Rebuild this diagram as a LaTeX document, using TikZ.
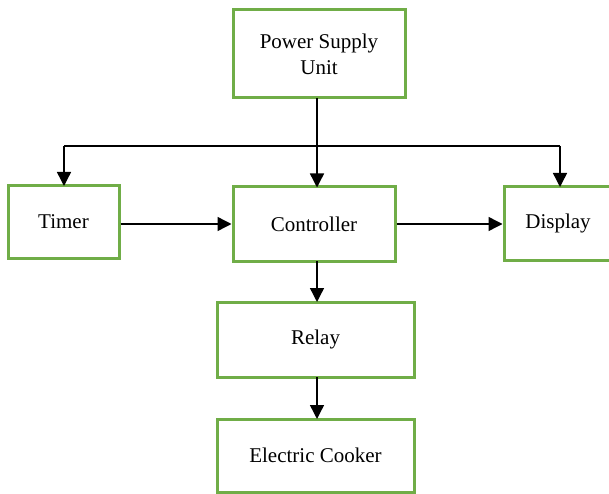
\documentclass[tikz,border=0pt]{standalone}
\usepackage{fontspec}
\setmainfont{Liberation Serif}
\usetikzlibrary{arrows.meta}
\definecolor{boxgreen}{RGB}{112,173,71}
\begin{document}
\begin{tikzpicture}[x=1pt,y=-1pt,
  blk/.style={draw=boxgreen, line width=3pt, fill=white, inner sep=0pt, align=center, font=\fontsize{21}{26}\selectfont},
  conn/.style={line width=1.4pt, -{Triangle[length=14pt,width=14pt]}},
  plain/.style={line width=1.4pt}]
\useasboundingbox (0,0) rectangle (609,494);
\node[blk, minimum width=172pt, minimum height=88pt] (psu) at (319,54) {Power Supply\\Unit};
\node[blk, minimum width=111pt, minimum height=72pt] (timer) at (63.5,222) {Timer};
\node[blk, minimum width=162pt, minimum height=74pt] (ctrl) at (314,224) {Controller};
\node[blk, minimum width=108pt, minimum height=73pt] (disp) at (558,223.5) {Display};
\node[blk, minimum width=197pt, minimum height=75pt] (relay) at (315.5,339.5) {Relay};
\node[blk, minimum width=197pt, minimum height=73pt] (cook) at (315.5,455.5) {Electric Cooker};
\coordinate (top) at (317,98);
\coordinate (j) at (317,146);
\coordinate (jl) at (64,146);
\coordinate (jr) at (560,146);
\draw[conn] (top) -- (317,187.5);
\draw[plain] (jl) -- (jr);
\draw[conn] (jl) -- (64,186);
\draw[conn] (jr) -- (560,187);
\draw[conn] (timer.east |- 0,224) -- (ctrl.west |- 0,224);
\draw[conn] (ctrl.east |- 0,224) -- (disp.west |- 0,224);
\draw[conn] (317,261) -- (317,302);
\draw[conn] (317,377) -- (317,419);
\end{tikzpicture}
\end{document}
